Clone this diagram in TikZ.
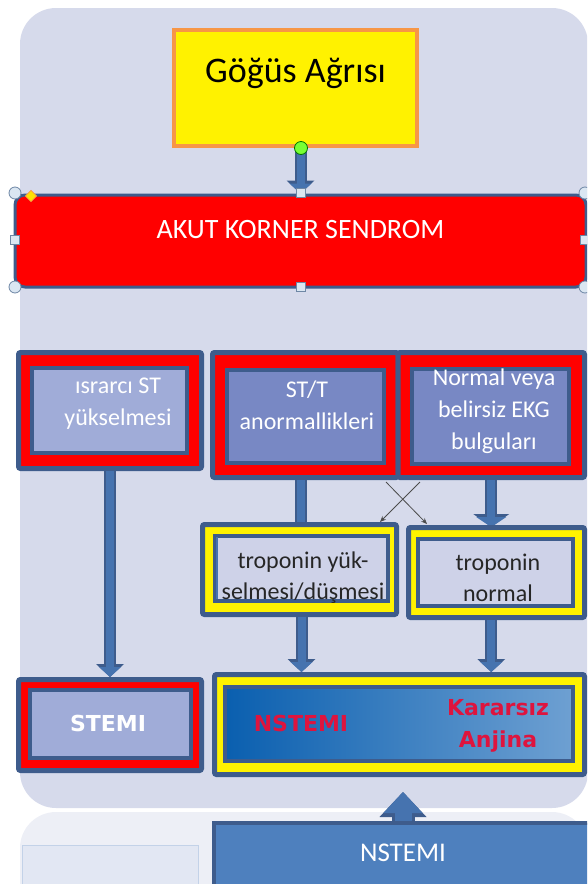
\documentclass[tikz,border=0pt]{standalone}
\usepackage{fontspec}
\setmainfont{Carlito}
\newfontfamily\heavyfont{DejaVu Sans}
\usetikzlibrary{arrows.meta}
\definecolor{bgcol}{RGB}{214,218,235}
\definecolor{mirrorcol}{RGB}{237,239,246}
\definecolor{mirrorbox}{RGB}{226,231,243}
\definecolor{mirrorline}{RGB}{195,210,232}
\definecolor{framecol}{RGB}{62,92,140}
\definecolor{arrowcol}{RGB}{70,115,175}
\definecolor{orangecol}{RGB}{247,150,70}
\definecolor{paleblue}{RGB}{160,172,216}
\definecolor{midblue}{RGB}{120,136,196}
\definecolor{tropcol}{RGB}{206,210,232}
\definecolor{deepblue}{RGB}{10,95,175}
\definecolor{lightblue}{RGB}{110,160,210}
\definecolor{crimson}{RGB}{222,20,62}
\definecolor{bottomcol}{RGB}{78,128,190}
\definecolor{handlecol}{RGB}{218,230,242}
\definecolor{handleline}{RGB}{110,135,165}
\begin{document}
\begin{tikzpicture}[x=1pt, y=-1pt,
    outer/.style={draw=framecol, line width=5pt, rectangle, rounded corners=2pt, inner sep=0pt},
    inner/.style={draw=framecol, line width=4pt, rectangle, inner sep=0pt},
    whitetext/.style={text=white, align=center, font=\fontsize{24}{32}\selectfont},
    darktext/.style={text=black!85, align=center, font=\fontsize{24}{31}\selectfont},
    redtext/.style={text=crimson, align=center, font=\heavyfont\bfseries\fontsize{22}{32}\selectfont},
    fat/.style 2 args={line width=8pt, draw=arrowcol, -{Triangle[width=#1, length=10pt, line width=0pt]},
      preaction={draw=framecol, line width=12pt, -{Triangle[width=#2, length=13pt, line width=0pt]}}},
    uparrow/.style={line width=17pt, draw=arrowcol, -{Triangle[width=39pt, length=21pt, line width=0pt]},
      preaction={draw=framecol, line width=23pt, -{Triangle[width=47pt, length=25pt, line width=0pt]}}},
    handle/.style={draw=handleline, fill=handlecol, line width=0.8pt, inner sep=0pt}]
\useasboundingbox (0,0) rectangle (587,884);
\clip (0,0) rectangle (587,884);

\fill[bgcol, rounded corners=36pt] (20,8) rectangle (588,808);
\fill[mirrorcol, rounded corners=36pt] (20,812) rectangle (588,960);
\draw[mirrorline, fill=mirrorbox, line width=1pt] (22,845) rectangle (198,900);

\node[draw=framecol, fill=bottomcol, line width=4pt, minimum width=384pt, minimum height=76pt, inner sep=0pt] (lower) at (406,861) {};
\node[text=white, font=\fontsize{27}{30}\selectfont] (lowertext) at (403,853) {NSTEMI};
\coordinate (uptip) at (403,792);
\draw[uparrow] (lower.north -| uptip) -- (uptip);

\node[draw=orangecol, fill=yellow, line width=4pt, minimum width=243pt, minimum height=116pt, inner sep=0pt] (gogus) at (295.5,88) {};
\node[font=\fontsize{36}{40}\selectfont] (gogustext) at (295.5,73) {Göğüs Ağrısı};

\node[draw=framecol, fill=red, line width=3pt, rounded corners=10pt, minimum width=571pt, minimum height=92pt, inner sep=0pt] (aks) at (300.5,241) {};
\node[text=white, font=\fontsize{28}{32}\selectfont] (akstext) at (300.5,230) {AKUT KORNER SENDROM};
\draw[fat={22pt}{28pt}] (gogus.south -| aks.north) -- (aks.north);

\foreach \hx/\hy in {15/193, 15/287, 585/193, 585/287}
  \node[handle, circle, minimum size=12pt] (corner-\hx-\hy) at (\hx,\hy) {};
\foreach \hx/\hy in {301/193, 301/287, 15/240, 585/240}
  \node[handle, rectangle, minimum size=9pt] (side-\hx-\hy) at (\hx,\hy) {};
\node[draw=orangecol, fill=yellow!85!orange, line width=0.6pt, rotate=45, minimum size=8pt, inner sep=0pt] (adjust) at (31,196) {};
\node[circle, draw=green!45!black, fill=green!55!lime!80!white, line width=0.8pt, minimum size=13pt, inner sep=0pt] (rotator) at (301,148) {};

\node[outer, fill=red, minimum width=183pt, minimum height=116pt] (persist) at (110,410.5) {};
\node[inner, fill=paleblue, minimum width=155pt, minimum height=85pt] (persistbox) at (109.5,410.5) {};
\node[whitetext] (persisttext) at (118,404) {ısrarcı ST\\yükselmesi};

\node[outer, fill=red, minimum width=185.5pt, minimum height=125pt] (stt) at (305.25,415) {};
\node[outer, fill=red, minimum width=186.5pt, minimum height=125pt] (normal) at (491.25,415) {};
\node[inner, fill=midblue, minimum width=157pt, minimum height=93pt] (sttbox) at (305.5,416.5) {};
\node[inner, fill=midblue, minimum width=157pt, minimum height=95pt] (normalbox) at (490.5,416.5) {};
\node[whitetext] (stttext) at (307,405) {ST/T\\anormallikleri};
\node[whitetext] (normaltext) at (494,411) {Normal veya\\belirsiz EKG\\bulguları};

\coordinate (crossa) at (386,482);
\coordinate (crossb) at (420,482);
\coordinate (crossc) at (427,524);
\coordinate (crossd) at (380,522);
\draw[fat={22pt}{28pt}] (stt.south -| 301,0) -- (301,536);
\draw[fat={30pt}{36pt}] (normal.south) -- (normal.south |- 0,527);
\draw[line width=0.8pt, black!70, -{Stealth[length=6pt, width=5pt]}] (crossa) -- (crossc);
\draw[line width=0.8pt, black!70, -{Stealth[length=6pt, width=5pt]}] (crossb) -- (crossd);

\node[outer, fill=yellow, minimum width=194pt, minimum height=90pt] (riseout) at (299.5,569.5) {};
\node[inner, fill=tropcol, minimum width=173pt, minimum height=65pt] (risebox) at (301.5,568.5) {};
\draw[arrowcol, line width=2pt] (risebox.north west) ++(4,3) -- ++(0,62);
\node[darktext] (risetext) at (303,578) {troponin yük-\\selmesi/düşmesi};
\node[outer, fill=yellow, minimum width=176pt, minimum height=90pt] (flatout) at (496.5,572.5) {};
\node[inner, fill=tropcol, minimum width=155pt, minimum height=67pt] (flatbox) at (495.5,572.5) {};
\node[darktext] (flattext) at (498,578) {troponin\\normal};

\node[outer, fill=red, minimum width=183pt, minimum height=91pt] (stemi) at (110,725) {};
\node[inner, fill=paleblue, minimum width=161pt, minimum height=68pt] (stemibox) at (110.5,724) {};
\node[text=white, font=\heavyfont\bfseries\fontsize{22}{26}\selectfont] (stemitext) at (108,723) {STEMI};
\node[outer, fill=yellow, minimum width=370pt, minimum height=100pt] (nstemi) at (399.5,724.5) {};
\node[inner, left color=deepblue, right color=lightblue, minimum width=348pt, minimum height=74pt] (nstemibox) at (399,724) {};
\node[redtext] (nstemitext) at (301,723) {NSTEMI};
\node[redtext] (unstable) at (498,726) {Kararsız\\Anjina};

\draw[fat={22pt}{28pt}] (persist.south) -- (stemi.north);
\draw[fat={22pt}{28pt}] (risebox.south |- riseout.south) -- (risebox.south |- nstemi.north);
\draw[fat={22pt}{28pt}] (normal.south |- flatout.south) -- (normal.south |- nstemi.north);
\end{tikzpicture}
\end{document}
